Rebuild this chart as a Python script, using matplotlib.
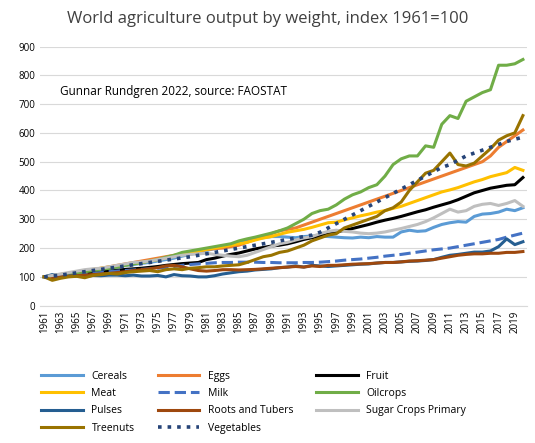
import matplotlib.pyplot as plt

years = list(range(1961, 2021))

cereals = [100,103,107,110,113,118,122,126,130,134, 140,143,147,150,155,160,165,172,178,185,
           192,198,205,212,222,228,232,236,240,240, 238,236,240,242,242,240,238,236,235,238,
           236,240,238,238,256,262,258,260,272,282, 288,292,290,310,318,320,325,335,330,340]
eggs = [100,104,108,112,116,120,125,130,135,140, 145,150,155,160,165,170,175,180,185,190,
        195,198,200,205,210,220,230,240,250,260, 265,270,280,290,300,310,320,330,340,350,
        360,370,380,390,400,410,420,430,440,450, 460,470,480,490,500,520,550,570,590,610]
fruit = [100,102,105,108,110,113,116,118,120,123, 126,128,130,133,136,140,143,146,148,150,
         160,165,172,178,183,190,197,202,207,210, 215,222,230,236,242,248,255,262,268,275,
         282,290,297,303,310,318,326,333,342,350, 358,368,380,392,400,408,413,418,420,445]
meat = [100,104,108,112,116,121,126,130,134,138, 142,146,150,155,160,166,172,178,184,190,
        195,200,205,210,215,220,228,235,240,248, 255,260,265,272,280,288,290,298,305,312,
        318,325,330,338,345,355,365,375,385,395, 402,410,420,430,438,448,455,462,480,470]
milk = [100,102,104,106,108,110,112,115,118,120, 122,124,126,128,130,133,136,140,143,145,
        147,149,150,150,151,151,151,150,150,149, 149,149,150,150,151,153,155,158,160,162,
        165,168,172,175,178,182,186,190,194,197, 200,205,210,215,220,225,230,238,245,252]
oilcrops = [100,103,106,110,114,118,122,126,130,134, 140,145,150,155,160,168,175,185,190,195,
            200,205,210,215,225,232,238,245,252,260, 270,285,300,320,330,335,350,370,385,395,
            410,420,450,490,510,520,520,555,550,630, 660,650,710,725,740,750,835,835,840,855]
pulses = [100,108,104,103,104,102,105,104,106,106, 104,106,103,103,105,100,108,104,103,100,
          100,104,110,114,118,120,124,126,128,132, 134,138,134,140,138,136,138,140,142,144,
          145,148,150,150,152,154,155,157,160,168, 175,178,182,186,186,190,205,232,212,222]
roots = [100,95,100,102,104,106,108,110,112,115, 118,122,125,128,132,138,140,135,128,122,
         120,122,125,125,124,125,126,128,130,132, 134,136,134,138,136,140,140,142,144,145,
         146,148,150,150,152,155,156,158,160,165, 170,175,178,180,180,182,182,185,185,188]
sugar = [100,105,110,115,120,125,128,130,135,140, 145,150,152,155,160,165,170,175,178,180,
         182,178,175,172,170,175,185,195,205,215, 220,228,235,240,250,258,262,258,256,252,
         250,252,256,262,268,275,282,292,305,320, 335,325,330,345,352,355,348,355,365,345]
treenuts = [100,88,95,100,102,97,105,108,112,110, 115,118,120,122,118,125,128,125,130,132,
            135,135,138,140,142,150,160,170,175,185, 190,200,210,225,235,245,250,270,280,290,
            300,310,330,340,360,400,430,460,470,500, 530,490,485,495,520,545,575,590,600,660]
vegetables = [100,103,106,110,114,118,122,126,130,134, 138,142,146,150,154,158,162,166,170,175,
              180,185,190,195,200,205,210,215,220,225, 230,235,240,245,255,270,285,300,315,330,
              345,360,375,390,405,420,435,450,465,480, 490,505,520,530,540,550,560,570,578,585]

series = [
    ('Cereals', cereals, '#5B9BD5', '-'),
    ('Eggs', eggs, '#ED7D31', '-'),
    ('Fruit', fruit, 'black', '-'),
    ('Meat', meat, '#FFC000', '-'),
    ('Milk', milk, '#4472C4', '--'),
    ('Oilcrops', oilcrops, '#70AD47', '-'),
    ('Pulses', pulses, '#255E91', '-'),
    ('Roots and Tubers', roots, '#9E480E', '-'),
    ('Sugar Crops Primary', sugar, '#BFBFBF', '-'),
    ('Treenuts', treenuts, '#997300', '-'),
    ('Vegetables', vegetables, '#264478', ':'),
]

plt.rcParams['font.family'] = ['Open Sans', 'DejaVu Sans']
fig = plt.figure(figsize=(5.35, 4.43), dpi=100)
ax = fig.add_axes([0.075, 0.31, 0.91, 0.585])

handles = []
for name, vals, col, ls in series:
    h, = ax.plot(years, vals, color=col, ls=ls, lw=2.6 if ls == ':' else 2.2, label=name)
    handles.append(h)

ax.set_ylim(0, 900)
ax.set_xlim(1960.5, 2020.5)
ax.set_yticks(range(0, 901, 100))
ax.set_xticks(years[::2])
ax.tick_params(axis='x', labelrotation=90, labelsize=7, length=0)
ax.tick_params(axis='y', labelsize=7, length=0)
ax.grid(axis='y', color='#D9D9D9', lw=0.8)
ax.set_axisbelow(True)
for s in ['top', 'right', 'left']:
    ax.spines[s].set_visible(False)
ax.spines['bottom'].set_color('#D9D9D9')

ax.text(1963, 730, 'Gunnar Rundgren 2022, source: FAOSTAT', fontsize=8.5)
fig.suptitle('World agriculture output by weight, index 1961=100', fontsize=12,
             color='#404040', y=0.975)

# legend filled row by row like the original
order = [0, 3, 6, 9, 1, 4, 7, 10, 2, 5, 8]
fig.legend([handles[i] for i in order], [series[i][0] for i in order],
           loc='lower left', bbox_to_anchor=(0.06, 0.0), ncol=3, frameon=False,
           fontsize=7.5, handlelength=4.0, columnspacing=2.2, labelspacing=0.6)

fig.savefig('out.png', dpi=100)
